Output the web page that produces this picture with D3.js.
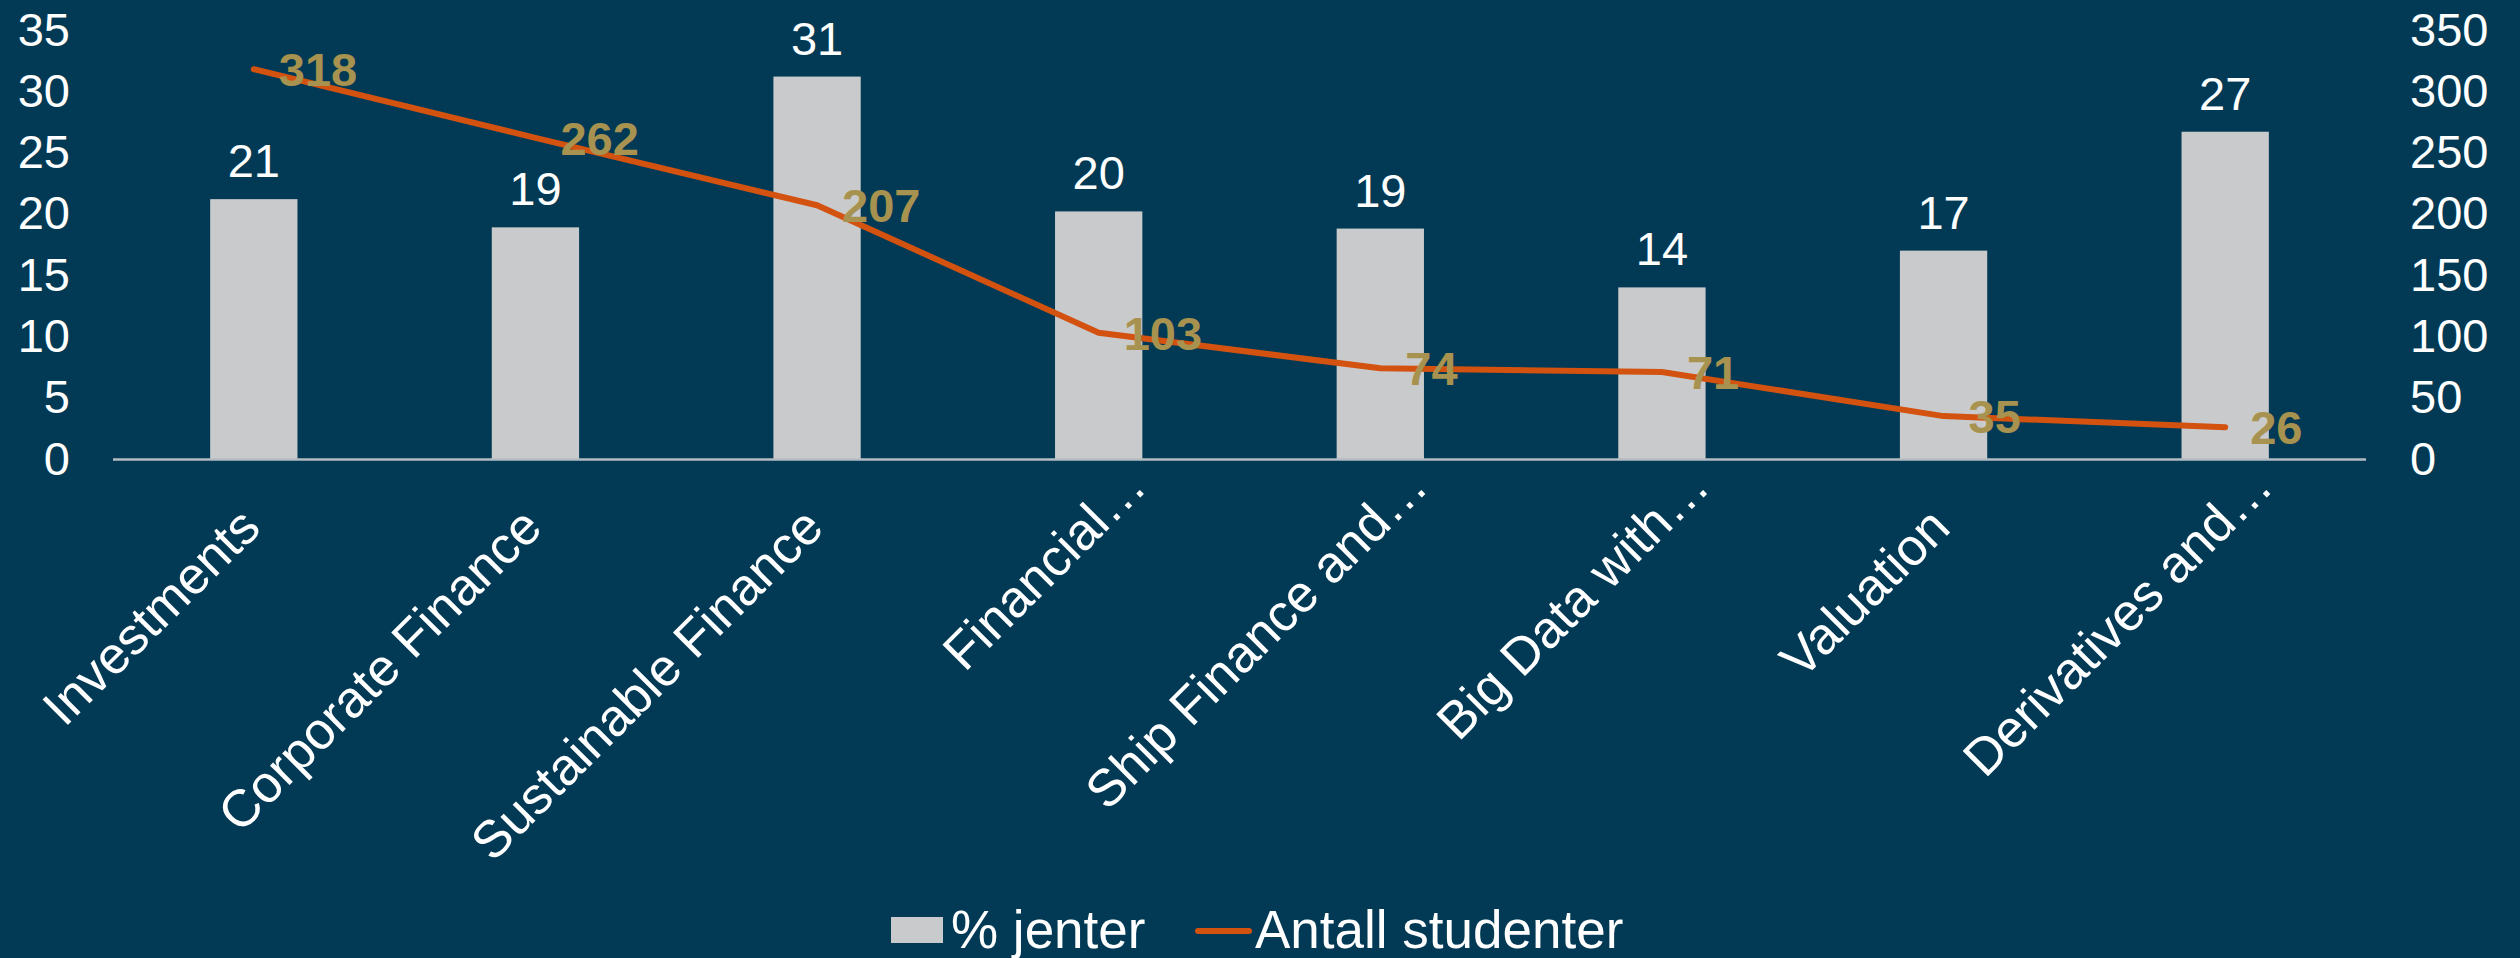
<!DOCTYPE html>
<html>
<head>
<meta charset="utf-8">
<script src="https://cdn.jsdelivr.net/npm/d3@7"></script>
<style>
  html, body { margin: 0; padding: 0; background: #023a55; }
  svg { display: block; }
  text { font-family: "Liberation Sans", Arial, sans-serif; }
</style>
</head>
<body>
<svg width="2520" height="958"></svg>
<script>
var courses = ["Investments", "Corporate Finance", "Sustainable Finance", "Financial\u2026",
               "Ship Finance and\u2026", "Big Data with\u2026", "Valuation", "Derivatives and\u2026"];
var pctGirls = [21.2, 18.9, 31.2, 20.2, 18.8, 14.0, 17.0, 26.7];
var students = [318, 262, 207, 103, 74, 71, 35, 26];
var leftTicks = [0, 5, 10, 15, 20, 25, 30, 35];
var rightTicks = [0, 50, 100, 150, 200, 250, 300, 350];
var seriesNames = ["% jenter", "Antall studenter"];

var bg = "#023a55", barColor = "#c9cacc", lineColor = "#d3520f", gold = "#a8924f";

var svg = d3.select("svg");
svg.append("rect").attr("width", 2520).attr("height", 958).attr("fill", bg);

// note: "top" is taken by window.top, so plotTop
var plotLeft = 113, plotRight = 2366, plotBottom = 459, plotTop = 30;

var x = d3.scaleBand()
    .domain(courses)
    .range([plotLeft, plotRight])
    .paddingInner(0.69)
    .paddingOuter(0.345);
var y = d3.scaleLinear().domain([0, 35]).range([plotBottom, plotTop]);
var y2 = d3.scaleLinear().domain([0, 350]).range([plotBottom, plotTop]);

function cx(d) { return x(d) + x.bandwidth() / 2; }

// left axis labels
var yAxis = d3.axisLeft(y).tickValues(leftTicks).tickSize(0).tickPadding(0);
var gl = svg.append("g").attr("transform", "translate(70,0)").call(yAxis);
gl.select(".domain").remove();
gl.selectAll("text")
    .attr("fill", "#ffffff")
    .attr("font-size", 47)
    .attr("font-family", "Liberation Sans, Arial, sans-serif");

// right axis labels
var yAxis2 = d3.axisRight(y2).tickValues(rightTicks).tickSize(0).tickPadding(0);
var gr = svg.append("g").attr("transform", "translate(2410,0)").call(yAxis2);
gr.select(".domain").remove();
gr.selectAll("text")
    .attr("fill", "#ffffff")
    .attr("font-size", 47)
    .attr("font-family", "Liberation Sans, Arial, sans-serif");

// bars
svg.selectAll("rect.bar")
    .data(pctGirls)
    .enter().append("rect")
    .attr("class", "bar")
    .attr("x", (d, i) => x(courses[i]))
    .attr("y", d => y(d))
    .attr("width", x.bandwidth())
    .attr("height", d => plotBottom - y(d))
    .attr("fill", barColor);

// x axis line
svg.append("line")
    .attr("x1", plotLeft).attr("x2", plotRight)
    .attr("y1", plotBottom + 0.5).attr("y2", plotBottom + 0.5)
    .attr("stroke", "#b4bcc3")
    .attr("stroke-width", 2.5);

// bar labels
svg.selectAll("text.barlab")
    .data(pctGirls)
    .enter().append("text")
    .attr("class", "barlab")
    .attr("x", (d, i) => cx(courses[i]))
    .attr("y", d => y(d) - 22)
    .attr("text-anchor", "middle")
    .attr("fill", "#ffffff")
    .attr("font-size", 47)
    .text(d => d3.format(".0f")(d));

// line
var line = d3.line()
    .x((d, i) => cx(courses[i]))
    .y(d => y2(d));
svg.append("path")
    .attr("d", line(students))
    .attr("fill", "none")
    .attr("stroke", lineColor)
    .attr("stroke-width", 6)
    .attr("stroke-linejoin", "round")
    .attr("stroke-linecap", "round");

// line labels (right of point)
svg.selectAll("text.linelab")
    .data(students)
    .enter().append("text")
    .attr("class", "linelab")
    .attr("x", (d, i) => cx(courses[i]) + 25)
    .attr("y", d => y2(d) + 17)
    .attr("fill", gold)
    .attr("font-weight", "bold")
    .attr("font-size", 47)
    .text(d => d);

// category labels, rotated -45
svg.selectAll("text.cat")
    .data(courses)
    .enter().append("text")
    .attr("class", "cat")
    .attr("transform", function(d) {
        var ex = cx(d) + 9, ey = plotBottom + 71;
        if (d.endsWith("\u2026")) { ex += 41; ey -= 41; }
        return "translate(" + ex + "," + ey + ") rotate(-45)";
    })
    .attr("text-anchor", "end")
    .attr("fill", "#ffffff")
    .attr("font-size", 52)
    .text(d => d);

// legend
var lg = svg.append("g");
lg.append("rect")
    .attr("x", 891).attr("y", 917)
    .attr("width", 52).attr("height", 26)
    .attr("fill", barColor);
lg.append("text")
    .attr("x", 951).attr("y", 948)
    .attr("fill", "#ffffff")
    .attr("font-size", 53)
    .text(seriesNames[0]);
lg.append("line")
    .attr("x1", 1198).attr("x2", 1249)
    .attr("y1", 931).attr("y2", 931)
    .attr("stroke", lineColor)
    .attr("stroke-width", 6)
    .attr("stroke-linecap", "round");
lg.append("text")
    .attr("x", 1255).attr("y", 948)
    .attr("fill", "#ffffff")
    .attr("font-size", 53)
    .text(seriesNames[1]);
</script>
</body>
</html>
